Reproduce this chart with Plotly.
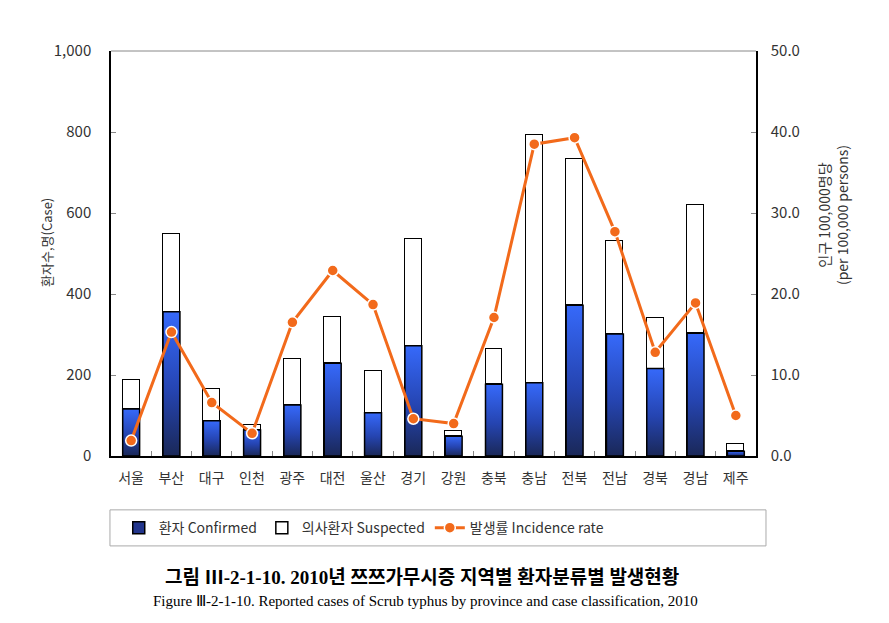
import plotly.graph_objects as go

regions = ["서울", "부산", "대구", "인천", "광주", "대전", "울산", "경기",
           "강원", "충북", "충남", "전북", "전남", "경북", "경남", "제주"]
confirmed = [116, 356, 87, 64, 126, 229, 107, 272, 49, 177, 181, 372, 301, 216, 303, 12]
total = [187, 547, 165, 77, 239, 342, 210, 536, 61, 263, 792, 733, 532, 340, 619, 29]
suspected = [t - c for t, c in zip(total, confirmed)]
incidence = [1.9, 15.3, 6.6, 2.8, 16.5, 22.9, 18.7, 4.6, 4.0, 17.1, 38.5, 39.3, 27.7, 12.8, 18.9, 5.0]

left_ticks = [0, 200, 400, 600, 800, 1000]
left_labels = ["0", "200", "400", "600", "800", "1,000"]
right_ticks = [0, 10, 20, 30, 40, 50]
right_labels = ["0.0", "10.0", "20.0", "30.0", "40.0", "50.0"]

idx = list(range(len(regions)))
BW = 0.42
FONT = "Noto Sans CJK KR, DejaVu Sans, sans-serif"
ORANGE = "#f26a1b"

fig = go.Figure()
fig.add_trace(go.Bar(x=idx, y=confirmed, width=BW, name="환자 Confirmed",
                     marker=dict(color="#22358c", line=dict(color="black", width=1.5))))
fig.add_trace(go.Bar(x=idx, y=suspected, width=BW, name="의사환자 Suspected",
                     marker=dict(color="white", line=dict(color="black", width=1.5))))

# gradient overlay on confirmed bars (computed from the data)
for i, c in zip(idx, confirmed):
    fig.add_trace(go.Scatter(
        x=[i - BW / 2, i + BW / 2, i + BW / 2, i - BW / 2, i - BW / 2],
        y=[0, 0, c, c, 0], mode="lines", fill="toself",
        fillgradient=dict(type="vertical",
                          colorscale=[[0, "#1a2858"], [0.45, "#2544b0"], [1, "#3669fa"]]),
        line=dict(color="black", width=1.5), showlegend=False, hoverinfo="skip"))

fig.add_trace(go.Scatter(x=idx, y=incidence, yaxis="y2", name="발생률 Incidence rate",
                         mode="lines+markers",
                         line=dict(color=ORANGE, width=3),
                         marker=dict(color=ORANGE, size=11, line=dict(color="white", width=1.5))))

fig.update_layout(
    width=889, height=623,
    paper_bgcolor="white", plot_bgcolor="white",
    margin=dict(l=111, r=133, t=51, b=167),
    barmode="stack", bargap=0,
    font=dict(family=FONT, size=14, color="#333333"),
    showlegend=True,
    legend=dict(orientation="h", x=0.012, y=-0.178, xanchor="left", yanchor="middle",
                itemwidth=30,
                font=dict(family=FONT, size=14, color="#333333"),
                bgcolor="rgba(0,0,0,0)", borderwidth=0, traceorder="normal"),
    xaxis=dict(range=[-0.5, 15.5], tickvals=[i - 0.5 for i in idx], ticktext=regions,
               ticks="inside", ticklen=5, tickcolor="#888888", ticklabelshift=20,
               showline=True, linecolor="black", linewidth=1.5, showgrid=False, zeroline=False,
               ticklabelstandoff=8, tickfont=dict(family=FONT, size=14, color="#333333")),
    yaxis=dict(range=[0, 1000], tickvals=left_ticks, ticktext=left_labels, ticks="inside",
               ticklen=5, tickcolor="#888888", showline=True, linecolor="black", linewidth=1.5,
               showgrid=False, zeroline=False, ticklabelstandoff=15,
               tickfont=dict(family=FONT, size=15, color="#333333")),
    yaxis2=dict(range=[0, 50], tickvals=right_ticks, ticktext=right_labels, overlaying="y",
                side="right", ticks="inside", ticklen=5, tickcolor="#888888", showline=True,
                linecolor="black", linewidth=1.5, showgrid=False, zeroline=False,
                ticklabelstandoff=10, tickfont=dict(family=FONT, size=15, color="#333333")),
    shapes=[
        dict(type="line", xref="paper", yref="paper", x0=0, x1=1, y0=1, y1=1,
             line=dict(color="#888888", width=1)),
        dict(type="rect", xref="paper", yref="paper", x0=-0.0016, x1=1.0155, y0=-0.222, y1=-0.133,
             line=dict(color="#aaaaaa", width=1)),
    ],
    annotations=[
        dict(text="환자수,명(Case)", textangle=-90, xref="paper", yref="paper",
             x=-0.119, y=0.528, showarrow=False, font=dict(family=FONT, size=13, color="#333333")),
        dict(text="인구 100,000명당<br>(per 100,000 persons)", textangle=-90, xref="paper",
             yref="paper", x=1.152, y=0.595, showarrow=False,
             font=dict(family=FONT, size=14, color="#333333")),
        dict(text="<b>그림 Ⅲ-2-1-10. 2010년 쯔쯔가무시증 지역별 환자분류별 발생현황</b>",
             xref="paper", yref="paper", x=0.482, y=-0.299, xanchor="center", yanchor="middle",
             showarrow=False,
             font=dict(family="Liberation Serif, Noto Sans CJK KR, serif", size=19, color="black")),
        dict(text="Figure Ⅲ-2-1-10. Reported cases of Scrub typhus by province and case classification, 2010",
             xref="paper", yref="paper", x=0.487, y=-0.358, xanchor="center", yanchor="middle",
             showarrow=False,
             font=dict(family="Liberation Serif, serif", size=15, color="black")),
    ],
)

fig.write_html("out.html", config={"displayModeBar": False},
               post_script="document.body.style.margin='0';")
